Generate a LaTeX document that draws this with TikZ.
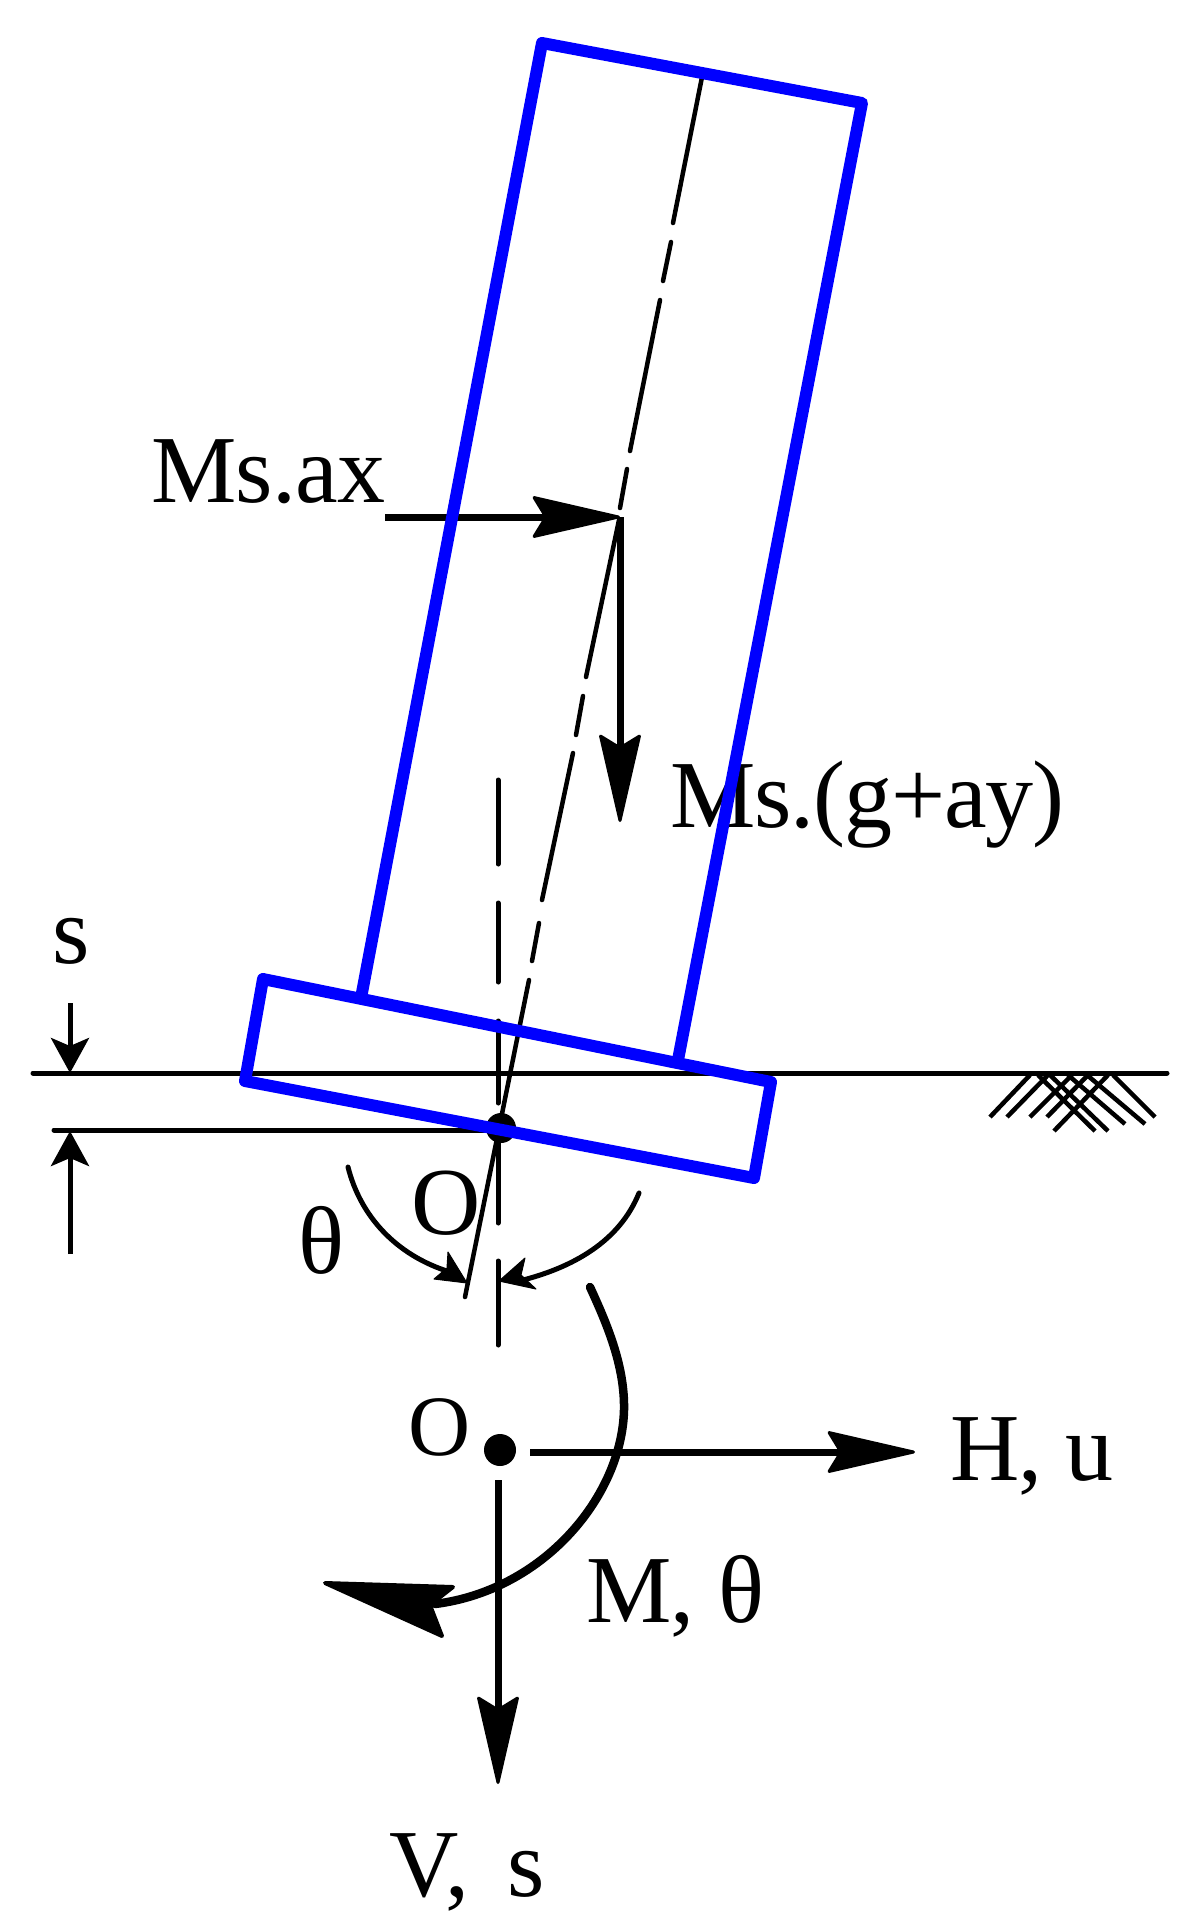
\documentclass[tikz,border=0pt]{standalone}
\usepackage{fontspec}
\setmainfont[LetterSpace=-0.8]{Liberation Serif}
\usetikzlibrary{arrows.meta}
\definecolor{bluefig}{RGB}{0,0,255}
\tikzset{
  blueline/.style={draw=bluefig,line width=12pt,line join=round,line cap=round},
  thin line/.style={draw=black,line width=5pt,line cap=round},
  tiltline/.style={draw=black,line width=4.5pt,line cap=round},
  hatchline/.style={draw=black,line width=4.5pt},
  labeltext/.style={inner sep=0pt,anchor=base west,font=\fontsize{96}{110}\selectfont},
  labelsmall/.style={inner sep=0pt,anchor=base west,font=\fontsize{86}{100}\selectfont},
  bigarrow/.style={draw=black,line width=7pt,-{Stealth[length=94pt,width=43pt,inset=13pt,round,line width=3pt]}},
  smallarrow/.style={draw=black,line width=5pt,-{Stealth[length=35pt,width=38pt,inset=8pt]}},
  headshape/.style={fill=black,draw=black,line width=3pt,line join=round},
  pivot/.style={circle,fill=black,inner sep=0pt},
}
\begin{document}
\begin{tikzpicture}[x=1pt,y=-1pt]
\useasboundingbox (0,0) rectangle (1193,1931);
% named points
\coordinate (mass) at (620,517);
\coordinate (axstart) at (385,517);
\coordinate (gravtip) at (620,822);
\coordinate (htail) at (530,1452);
\coordinate (htip) at (915,1452);
\coordinate (vtail) at (498,1480);
\coordinate (vtip) at (498,1784);
\coordinate (gl) at (33,1073);
\coordinate (gr) at (1167,1073);
\coordinate (ll) at (54,1130);
\coordinate (lr) at (495,1130);
\coordinate (sdt) at (70,1003);
\coordinate (sdh) at (70,1073);
\coordinate (sut) at (70,1254);
\coordinate (suh) at (70,1131);
% labels
\node[labeltext] (lax) at (151,502) {Ms.ax};
\node[labeltext] (lay) at (670,827) {\addfontfeature{LetterSpace=-1.2}Ms.(g+ay)};
\node[labeltext] (ls) at (52,963) {s};
\node[labeltext] (lo) at (411,1234) {O};
\node[labeltext] (lth) at (298,1273) {θ};
\node[labelsmall] (lo2) at (408,1455) {O};
\node[labeltext] (lhu) at (950,1480) {H, u};
\node[labeltext] (lmt) at (586,1622) {M, θ};
\node[labeltext] (lvs) at (389,1896) {V,\hspace{15pt} s};
% ground
\draw[thin line] (gl) -- (gr);
\draw[thin line] (ll) -- (lr);
\draw[smallarrow] (sdt) -- (sdh);
\draw[smallarrow] (sut) -- (suh);
% hatching
\foreach \a/\b/\c/\d in {990/1117/1030/1075,1007/1117/1048/1075,1030/1117/1072/1075,1047/1117/1088/1075,1054/1131/1108/1075,
  1038/1075/1095/1131,1050/1075/1108/1131,1068/1075/1125/1124,1087/1075/1145/1124,1113/1075/1155/1117}
  \draw[hatchline] (\a,\b) -- (\c,\d);
% centre lines
\draw[thin line] (498,780) -- (498,864) (498,903) -- (498,982) (498,1021) -- (498,1103)
  (498,1143) -- (498,1223) (498,1261) -- (498,1345);
\draw[tiltline] (703,72) -- (673,223) (671,242) -- (663,281) (660,300) -- (630,451) (627,469) -- (620,508)
  (619,520) -- (586,677) (583,696) -- (576,735) (573,753) -- (542,900) (539,923) -- (532,961) (529,980) -- (465,1297);
% pivot points
\node[pivot,minimum size=30pt] (o1) at (501,1128) {};
\node[pivot,minimum size=32pt] (o2) at (500,1450) {};
% force arrows
\draw[bigarrow] (axstart) -- (mass);
\draw[bigarrow] (mass) -- (gravtip);
\draw[bigarrow] (htail) -- (htip);
\draw[bigarrow] (vtail) -- (vtip);
% rotation angle arcs
\draw[tiltline,line width=5pt] (348,1167) .. controls (360,1215) and (395,1255) .. (450,1272);
\draw[headshape,line width=1pt] (467,1283) -- (448,1252) -- (447,1268) -- (434,1279) -- cycle;
\draw[tiltline,line width=5pt] (639,1193) .. controls (620,1240) and (575,1268) .. (515,1282);
\draw[headshape,line width=1pt] (499,1281) -- (525,1258) -- (521,1275) -- (536,1289) -- cycle;
% moment arc
\draw[draw=black,line width=8.5pt,line cap=round] (590,1287) .. controls (606,1322) and (625,1365) .. (624,1410) .. controls (622,1495) and (545,1590) .. (435,1604);
\draw[headshape,line width=4pt] (325,1583) -- (453,1587) -- (430,1605) -- (442,1636) -- cycle;
% structure
\draw[blueline] (361,998) -- (542,43) -- (862,103) -- (678,1060);
\draw[blueline] (263,979) -- (771,1082) -- (754,1178) -- (245,1081) -- cycle;
\end{tikzpicture}
\end{document}
